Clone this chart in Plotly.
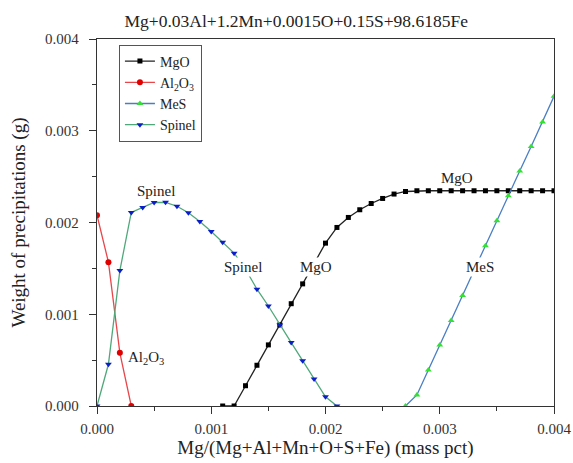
import plotly.graph_objects as go

# x positions (mass pct), step 0.0001
x_mgo = [0.0011, 0.0012, 0.0013, 0.0014, 0.0015, 0.0016, 0.0017, 0.0018, 0.0019, 0.0020,
         0.0021, 0.0022, 0.0023, 0.0024, 0.0025, 0.0026, 0.0027, 0.0028, 0.0029, 0.0030,
         0.0031, 0.0032, 0.0033, 0.0034, 0.0035, 0.0036, 0.0037, 0.0038, 0.0039, 0.0040]
y_mgo = [0.0, 0.0, 0.000221, 0.000444, 0.000666, 0.000884, 0.001115, 0.001331, 0.00156, 0.001775,
         0.001946, 0.002055, 0.002139, 0.002207, 0.002262, 0.002310, 0.002338, 0.002346, 0.002346, 0.002346,
         0.002346, 0.002346, 0.002346, 0.002346, 0.002346, 0.002346, 0.002346, 0.002346, 0.002346, 0.002346]

x_al2o3 = [0.0, 0.0001, 0.0002, 0.0003]
y_al2o3 = [0.00208, 0.001568, 0.00058, 0.0]

x_mes = [0.0027, 0.0028, 0.0029, 0.0030, 0.0031, 0.0032, 0.0033, 0.0034, 0.0035, 0.0036,
         0.0037, 0.0038, 0.0039, 0.0040]
y_mes = [0.0, 0.00012, 0.000393, 0.000666, 0.000931, 0.001204, 0.001475, 0.001746, 0.002019, 0.002291,
         0.002561, 0.002829, 0.003095, 0.003375]

x_spinel = [0.0, 0.0001, 0.0002, 0.0003, 0.0004, 0.0005, 0.0006, 0.0007, 0.0008, 0.0009,
            0.0010, 0.0011, 0.0012, 0.0013, 0.0014, 0.0015, 0.0016, 0.0017, 0.0018, 0.0019,
            0.0020, 0.0021]
y_spinel = [0.0, 0.000455, 0.001476, 0.00211, 0.002164, 0.002218, 0.00222, 0.002177, 0.002106, 0.002011,
            0.001902, 0.001786, 0.001666, 0.00149, 0.001273, 0.00109, 0.000884, 0.000691, 0.000494, 0.000295,
            0.000101, 0.0]

title_text = "Mg+0.03Al+1.2Mn+0.0015O+0.15S+98.6185Fe"
x_title = "Mg/(Mg+Al+Mn+O+S+Fe) (mass pct)"
y_title = "Weight of precipitations (g)"
tick_vals = [0.0, 0.001, 0.002, 0.003, 0.004]
tick_text = ["0.000", "0.001", "0.002", "0.003", "0.004"]

# curve labels: (text, x, y, white background)
labels = [
    ("Spinel", 0.00052, 0.00234, False),
    ("Spinel", 0.00128, 0.00152, True),
    ("Al<sub>2</sub>O<sub>3</sub>", 0.00043, 0.00052, False),
    ("MgO", 0.00192, 0.00152, True),
    ("MgO", 0.00315, 0.00249, False),
    ("MeS", 0.00335, 0.00152, True),
]

FONT = "Liberation Serif"

fig = go.Figure()
fig.add_trace(go.Scatter(x=x_mgo, y=y_mgo, name="MgO", mode="lines+markers",
                         line=dict(color="#222222", width=1.3),
                         marker=dict(symbol="square", size=5, color="#000000")))
fig.add_trace(go.Scatter(x=x_al2o3, y=y_al2o3, name="Al<sub>2</sub>O<sub>3</sub>", mode="lines+markers",
                         line=dict(color="#e8464a", width=1.3),
                         marker=dict(symbol="circle", size=6, color="#e00000")))
fig.add_trace(go.Scatter(x=x_mes, y=y_mes, name="MeS", mode="lines+markers",
                         line=dict(color="#4a7ec4", width=1.3),
                         marker=dict(symbol="triangle-up", size=6, color="#33e033")))
fig.add_trace(go.Scatter(x=x_spinel, y=y_spinel, name="Spinel", mode="lines+markers",
                         line=dict(color="#4fa87a", width=1.3),
                         marker=dict(symbol="triangle-down", size=6, color="#0a1fc8")))

for txt, lx, ly, bg in labels:
    fig.add_annotation(x=lx, y=ly, text=txt, showarrow=False,
                       font=dict(family=FONT, size=15, color="#222222"),
                       bgcolor="white" if bg else "rgba(0,0,0,0)", borderpad=1)

axis_common = dict(
    range=[0, 0.004], tickvals=tick_vals, ticktext=tick_text,
    showline=True, linecolor="#333333", linewidth=1.3, mirror=True,
    ticks="outside", ticklen=7, tickwidth=1.2, tickcolor="#333333",
    minor=dict(dtick=0.0005, ticks="outside", ticklen=4, tickwidth=1.1, tickcolor="#333333", showgrid=False),
    showgrid=False, zeroline=False, automargin=False,
    tickfont=dict(family=FONT, size=15, color="#333333"),
)

fig.update_layout(
    width=573, height=463,
    margin=dict(l=97, r=19, t=39, b=57, autoexpand=False),
    paper_bgcolor="white", plot_bgcolor="white",
    title=dict(text=title_text, x=0.517, xanchor="center", y=0.955, yanchor="middle",
               font=dict(family=FONT, size=17.5, color="#222222")),
    xaxis=dict(**axis_common, ticklabelstandoff=2,
               title=dict(text=x_title, standoff=4,
                          font=dict(family=FONT, size=19, color="#222222"))),
    yaxis=dict(**axis_common, ticklabelstandoff=7,
               title=dict(text=y_title, standoff=14,
                          font=dict(family=FONT, size=19, color="#222222"))),
    legend=dict(x=0.048, y=0.985, xanchor="left", yanchor="top",
                bordercolor="#555555", borderwidth=1, bgcolor="white",
                font=dict(family=FONT, size=14, color="#222222"),
                itemwidth=30, tracegroupgap=0),
    showlegend=True,
)

fig.write_html("out.html", config={"displayModeBar": False},
               post_script="document.body.style.margin='0';document.body.style.padding='0';")
